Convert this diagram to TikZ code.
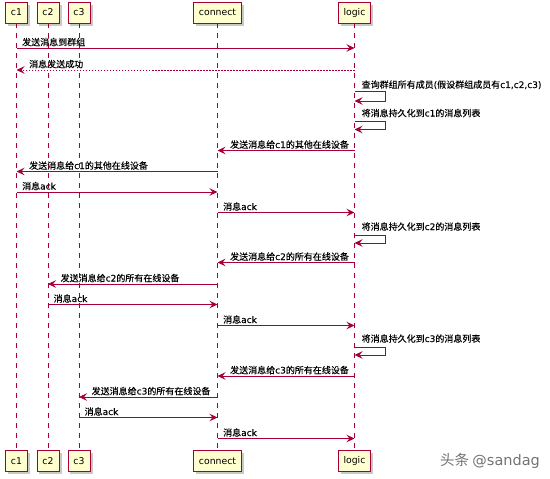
\documentclass[tikz,border=0pt]{standalone}
\usepackage{fontspec}
\setmainfont{Noto Sans CJK SC}[FakeBold=0.25]
\newfontfamily\lat{DejaVu Sans}[FakeBold=0.15]
\newfontfamily\partfont{DejaVu Sans}
\newfontfamily\wmfont{Noto Sans CJK SC}
\newfontfamily\wmlat{DejaVu Sans}
\usetikzlibrary{arrows.meta,shadows}
\definecolor{pu}{HTML}{A80036}
\definecolor{pbox}{HTML}{FEFECE}
\begin{document}
\begin{tikzpicture}[x=1pt,y=-1pt,
  part/.style={draw=pu, fill=pbox, line width=0.9pt, minimum height=21pt, inner xsep=5.5pt,
    font=\partfont\fontsize{9.3}{11}\selectfont, text=black,
    drop shadow={shadow xshift=2.5pt, shadow yshift=-2.5pt, fill=black!35, opacity=0.6}},
  life/.style={draw=pu, line width=0.7pt, dash pattern=on 5pt off 5pt},
  msg/.style={draw=pu, line width=0.8pt, -{Stealth[length=8pt,width=7.5pt,inset=3pt]}},
  ret/.style={msg, dash pattern=on 1.5pt off 1.5pt},
  lbl/.style={anchor=base west, inner sep=0pt, font=\fontsize{9}{10}\selectfont, text=black}]
\useasboundingbox (0,0) rectangle (550,479);
\fill[white] (0,0) rectangle (550,479);

% participants
\node[part] (t1) at (16.5,12.5) {c1};
\node[part] (t2) at (48,12.5) {c2};
\node[part] (t3) at (79,12.5) {c3};
\node[part] (tc) at (217.5,12.5) {connect};
\node[part] (tl) at (354.5,12.5) {logic};
\node[part] (b1) at (16.5,461) {c1};
\node[part] (b2) at (48,461) {c2};
\node[part] (b3) at (79,461) {c3};
\node[part] (bc) at (217.5,461) {connect};
\node[part] (bl) at (354.5,461) {logic};

% lifelines
\foreach \p in {1,2,3,c,l} \draw[life] (t\p.south) -- (b\p.north);

% messages
\draw[msg] (t1 |- 0,48) -- (tl |- 0,48);
\node[lbl] (l1) at ([xshift=5.5pt]t1 |- 0,45.5) {发送消息到群组};

\draw[ret] (tl |- 0,70) -- (t1 |- 0,70);
\node[lbl] (l2) at ([xshift=12.5pt]t1 |- 0,67.5) {消息发送成功};

\draw[msg] (tl |- 0,91) -- ([xshift=31pt]tl |- 0,91) -- ([xshift=31pt]tl |- 0,101) -- (tl |- 0,101);
\node[lbl] (l3) at ([xshift=7pt]tl |- 0,88) {查询群组所有成员{\lat (}假设群组成员有{\lat c1,c2,c3)}};

\draw[msg] (tl |- 0,121.5) -- ([xshift=31pt]tl |- 0,121.5) -- ([xshift=31pt]tl |- 0,129.5) -- (tl |- 0,129.5);
\node[lbl] (l4) at ([xshift=7pt]tl |- 0,116.5) {将消息持久化到{\lat c1}的消息列表};

\draw[msg] (tl |- 0,150.5) -- (tc |- 0,150.5);
\node[lbl] (l5) at ([xshift=12.5pt]tc |- 0,148) {发送消息给{\lat c1}的其他在线设备};

\draw[msg] (tc |- 0,171.5) -- (t1 |- 0,171.5);
\node[lbl] (l6) at ([xshift=12.5pt]t1 |- 0,169) {发送消息给{\lat c1}的其他在线设备};

\draw[msg] (t1 |- 0,192) -- (tc |- 0,192);
\node[lbl] (l7) at ([xshift=5.5pt]t1 |- 0,189.5) {消息{\lat ack}};

\draw[msg] (tc |- 0,212.5) -- (tl |- 0,212.5);
\node[lbl] (l8) at ([xshift=5.5pt]tc |- 0,210) {消息{\lat ack}};

\draw[msg] (tl |- 0,235) -- ([xshift=31pt]tl |- 0,235) -- ([xshift=31pt]tl |- 0,243) -- (tl |- 0,243);
\node[lbl] (l9) at ([xshift=7pt]tl |- 0,230) {将消息持久化到{\lat c2}的消息列表};

\draw[msg] (tl |- 0,262.5) -- (tc |- 0,262.5);
\node[lbl] (l10) at ([xshift=12.5pt]tc |- 0,260) {发送消息给{\lat c2}的所有在线设备};

\draw[msg] (tc |- 0,284) -- (t2 |- 0,284);
\node[lbl] (l11) at ([xshift=12.5pt]t2 |- 0,281.5) {发送消息给{\lat c2}的所有在线设备};

\draw[msg] (t2 |- 0,304.5) -- (tc |- 0,304.5);
\node[lbl] (l12) at ([xshift=5.5pt]t2 |- 0,302) {消息{\lat ack}};

\draw[msg] (tc |- 0,325.5) -- (tl |- 0,325.5);
\node[lbl] (l13) at ([xshift=5.5pt]tc |- 0,323) {消息{\lat ack}};

\draw[msg] (tl |- 0,347) -- ([xshift=31pt]tl |- 0,347) -- ([xshift=31pt]tl |- 0,355) -- (tl |- 0,355);
\node[lbl] (l14) at ([xshift=7pt]tl |- 0,342) {将消息持久化到{\lat c3}的消息列表};

\draw[msg] (tl |- 0,376) -- (tc |- 0,376);
\node[lbl] (l15) at ([xshift=12.5pt]tc |- 0,373.5) {发送消息给{\lat c3}的所有在线设备};

\draw[msg] (tc |- 0,397) -- (t3 |- 0,397);
\node[lbl] (l16) at ([xshift=12.5pt]t3 |- 0,394.5) {发送消息给{\lat c3}的所有在线设备};

\draw[msg] (t3 |- 0,417.5) -- (tc |- 0,417.5);
\node[lbl] (l17) at ([xshift=5.5pt]t3 |- 0,415) {消息{\lat ack}};

\draw[msg] (tc |- 0,438.5) -- (tl |- 0,438.5);
\node[lbl] (l18) at ([xshift=5.5pt]tc |- 0,436) {消息{\lat ack}};

% watermark
\node[anchor=west, inner sep=0pt, text=black!55, font=\wmfont\fontsize{14.5}{16}\selectfont] (wm) at (440,461) {头条 {\wmlat\fontsize{14.5}{16}\selectfont @sandag}};
\end{tikzpicture}
\end{document}
